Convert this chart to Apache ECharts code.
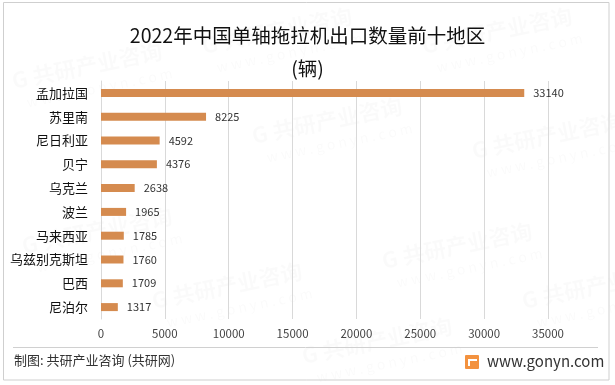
<!DOCTYPE html>
<html><head><meta charset="utf-8">
<script src="https://cdn.jsdelivr.net/npm/echarts@6/dist/echarts.min.js"></script>
<style>html,body{margin:0;padding:0;background:#fff}#c{width:615px;height:385px}</style>
</head><body><div id="c"></div>
<script>
const categories = ['孟加拉国','苏里南','尼日利亚','贝宁','乌克兰','波兰','马来西亚','乌兹别克斯坦','巴西','尼泊尔'];
const values = [33140, 8225, 4592, 4376, 2638, 1965, 1785, 1760, 1709, 1317];
const titleLines = ['2022年中国单轴拖拉机出口数量前十地区', '(辆)'];
const sourceText = '制图: 共研产业咨询 (共研网)';
const siteText = 'www.gonyn.com';

const chart = echarts.init(document.getElementById('c'), null, {renderer: 'canvas'});
const font = '"Microsoft YaHei","Noto Sans CJK SC",sans-serif';
const wm = [];
const wmPos = [[10,70],[200,35],[420,35],[20,235],[250,125],[470,140],[150,290],[380,250],[520,290],[300,345]];
wmPos.forEach(p => {
  wm.push({type:'group', x:p[0], y:p[1], rotation: 0.2, silent:true, z:-10, children:[
    {type:'text', style:{text:'G 共研产业咨询', x:0, y:0, font:'bold 22px '+font, fill:'rgba(0,0,0,0.02)'}},
    {type:'text', style:{text:'w w w . g o n y n . c o m', x:10, y:28, font:'14px '+font, fill:'rgba(0,0,0,0.02)'}}
  ]});
});
chart.setOption({
  animation: false,
  title: {
    text: titleLines.join('\n'), left: 'center', top: 14,
    textStyle: {fontSize: 19.5, fontWeight: 'normal', color: '#111', fontFamily: font, lineHeight: 33}
  },
  grid: {left: 101, right: 67, top: 81, bottom: 66, containLabel: false},
  xAxis: {
    type: 'value', min: 0, max: 35000, interval: 5000,
    axisLine: {show: false}, axisTick: {show: false},
    axisLabel: {color: '#444', fontSize: 11.5, margin: 9, fontFamily: font, formatter: v => String(v)},
    splitLine: {lineStyle: {color: '#d9d9d9', width: 1}}
  },
  yAxis: {
    type: 'category', data: categories, inverse: true,
    axisLine: {show: true, lineStyle: {color: '#d9d9d9'}}, axisTick: {show: false},
    axisLabel: {color: '#111', fontSize: 13, margin: 13, fontFamily: font}
  },
  series: [{
    type: 'bar', data: values, barWidth: 8,
    itemStyle: {color: '#D58B4F'},
    label: {show: true, position: 'right', distance: 9, color: '#333', fontSize: 11, fontFamily: font}
  }],
  graphic: wm.concat([
    {type:'rect', shape:{x:3.5, y:2.5, width:605.5, height:377.5}, style:{fill:'none', stroke:'#cfcfcf', lineWidth:1}, silent:true},
    {type:'line', shape:{x1:13, y1:347.5, x2:598, y2:347.5}, style:{stroke:'#d0d0d0', lineWidth:1}, silent:true},
    {type:'text', left: 14, top: 354, style:{text: sourceText, font:'13px '+font, fill:'#333'}},
    {type:'group', left: 465, top: 354, children:[
      {type:'rect', shape:{x:0, y:0, width:14, height:14, r:1}, style:{fill:'#F3923F'}},
      {type:'rect', shape:{x:3, y:4, width:9, height:2}, style:{fill:'#fff'}},
      {type:'rect', shape:{x:3, y:4, width:2, height:7}, style:{fill:'#fff'}},
      {type:'text', style:{text: siteText, x:22, y:-1, font:'15px '+font, fill:'#333'}}
    ]}
  ])
});
</script></body></html>
